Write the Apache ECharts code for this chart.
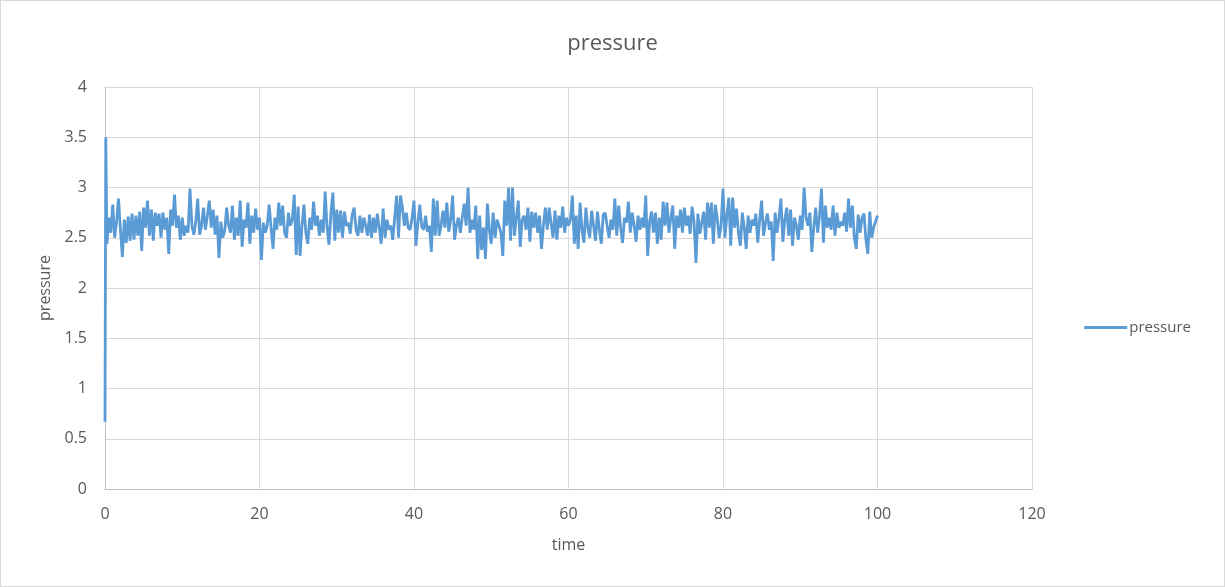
<!DOCTYPE html>
<html>
<head>
  <meta charset="UTF-8">
  <title>pressure</title>
  <style>
    body { margin: 0; background: #fff; }
    #chart { position: absolute; left: 0; top: 0; width: 1223px; height: 585px; border: 1px solid #d9d9d9; }
  </style>
  <script src="https://cdn.jsdelivr.net/npm/echarts@6/dist/echarts.min.js"></script>
</head>
<body>
  <div id="chart"></div>
  <script>
    // first two samples (start-up spike)
    var startTimes = [0, 0.1];
    var startValues = [0.67, 3.5];
    // then one sample every 0.25 time units, from 0.25 to 100
    var step = 0.25;
    var pressure = [
      2.44, 2.70, 2.55, 2.83, 2.50, 2.66, 2.89, 2.58,
      2.31, 2.68, 2.45, 2.71, 2.47, 2.74, 2.48, 2.72,
      2.52, 2.76, 2.37, 2.80, 2.60, 2.87, 2.52, 2.78,
      2.47, 2.75, 2.62, 2.74, 2.50, 2.75, 2.58, 2.70,
      2.34, 2.78, 2.62, 2.93, 2.60, 2.72, 2.48, 2.70,
      2.52, 2.62, 2.55, 2.99, 2.62, 2.53, 2.66, 2.89,
      2.53, 2.62, 2.80, 2.58, 2.72, 2.87, 2.60, 2.78,
      2.53, 2.72, 2.30, 2.66, 2.50, 2.57, 2.80, 2.62,
      2.55, 2.82, 2.48, 2.70, 2.52, 2.87, 2.41, 2.68,
      2.60, 2.85, 2.44, 2.72, 2.55, 2.79, 2.58, 2.70,
      2.28, 2.65, 2.55, 2.62, 2.83, 2.60, 2.39, 2.70,
      2.58, 2.85, 2.62, 2.82, 2.55, 2.50, 2.75, 2.62,
      2.68, 2.93, 2.33, 2.81, 2.32, 2.62, 2.83, 2.55,
      2.44, 2.70, 2.58, 2.86, 2.62, 2.72, 2.52, 2.68,
      2.55, 2.96, 2.60, 2.43, 2.75, 2.95, 2.47, 2.78,
      2.55, 2.77, 2.50, 2.76, 2.62, 2.65, 2.54, 2.73,
      2.80, 2.58, 2.52, 2.72, 2.55, 2.70, 2.62, 2.52,
      2.73, 2.50, 2.70, 2.55, 2.74, 2.60, 2.44, 2.79,
      2.50, 2.68, 2.58, 2.62, 2.48, 2.70, 2.92, 2.50,
      2.92, 2.80, 2.62, 2.75, 2.60, 2.58, 2.70, 2.87,
      2.42, 2.65, 2.83, 2.61, 2.58, 2.72, 2.56, 2.62,
      2.36, 2.89, 2.52, 2.87, 2.52, 2.62, 2.77, 2.60,
      2.85, 2.56, 2.68, 2.92, 2.48, 2.62, 2.70, 2.55,
      2.70, 2.84, 2.62, 3.00, 2.55, 2.68, 2.58, 2.82,
      2.29, 2.72, 2.38, 2.60, 2.29, 2.84, 2.58, 2.44,
      2.75, 2.50, 2.68, 2.62, 2.55, 2.32, 2.87, 2.62,
      3.00, 2.47, 3.00, 2.52, 2.70, 2.87, 2.41, 2.68,
      2.72, 2.58, 2.80, 2.46, 2.76, 2.60, 2.75, 2.55,
      2.72, 2.39, 2.62, 2.80, 2.58, 2.80, 2.64, 2.50,
      2.77, 2.48, 2.72, 2.60, 2.81, 2.55, 2.70, 2.62,
      2.68, 2.92, 2.44, 2.72, 2.39, 2.85, 2.58, 2.45,
      2.80, 2.60, 2.50, 2.77, 2.62, 2.47, 2.76, 2.58,
      2.44, 2.73, 2.75, 2.62, 2.50, 2.68, 2.58, 2.89,
      2.52, 2.82, 2.60, 2.45, 2.70, 2.65, 2.86, 2.55,
      2.75, 2.62, 2.46, 2.72, 2.58, 2.70, 2.60, 2.92,
      2.32, 2.66, 2.76, 2.55, 2.75, 2.44, 2.70, 2.48,
      2.86, 2.62, 2.85, 2.55, 2.70, 2.82, 2.39, 2.72,
      2.60, 2.78, 2.55, 2.80, 2.62, 2.72, 2.54, 2.81,
      2.66, 2.25, 2.74, 2.54, 2.65, 2.76, 2.48, 2.85,
      2.60, 2.85, 2.44, 2.83, 2.70, 2.50, 2.62, 2.99,
      2.50, 2.72, 2.90, 2.42, 2.90, 2.60, 2.79, 2.55,
      2.42, 2.75, 2.60, 2.39, 2.72, 2.55, 2.68, 2.62,
      2.74, 2.45, 2.68, 2.87, 2.52, 2.65, 2.74, 2.58,
      2.66, 2.27, 2.75, 2.55, 2.70, 2.89, 2.46, 2.68,
      2.80, 2.52, 2.78, 2.42, 2.70, 2.62, 2.48, 2.72,
      2.58, 3.00, 2.70, 2.62, 2.75, 2.36, 2.60, 2.80,
      2.55, 2.72, 2.99, 2.45, 2.82, 2.60, 2.70, 2.58,
      2.82, 2.52, 2.75, 2.60, 2.66, 2.62, 2.75, 2.56,
      2.89, 2.60, 2.82, 2.50, 2.39, 2.73, 2.55, 2.70,
      2.74, 2.48, 2.34, 2.76, 2.50, 2.60, 2.66, 2.72
    ];

    var points = [];
    for (var i = 0; i < startTimes.length; i++) points.push([startTimes[i], startValues[i]]);
    for (var j = 0; j < pressure.length; j++) points.push([(j + 1) * step, pressure[j]]);

    var font = '"Open Sans", sans-serif';
    var chart = echarts.init(document.getElementById('chart'));
    chart.setOption({
      animation: false,
      textStyle: { fontFamily: font, color: '#595959' },
      title: {
        text: 'pressure', left: 'center', top: 27,
        textStyle: { fontFamily: font, fontSize: 22, fontWeight: 'normal', color: '#595959' }
      },
      legend: {
        right: 28, top: 314, orient: 'vertical',
        itemWidth: 43, itemHeight: 3, itemGap: 4,
        icon: 'rect',
        textStyle: { fontFamily: font, fontSize: 15, color: '#595959', padding: [0, 0, 0, -3] },
        data: ['pressure']
      },
      grid: { left: 104, right: 192, top: 86, bottom: 97, containLabel: false },
      xAxis: {
        type: 'value', min: 0, max: 120, interval: 20,
        name: 'time', nameLocation: 'middle', nameGap: 48,
        nameTextStyle: { fontFamily: font, fontSize: 16, color: '#595959' },
        axisLine: { show: true, lineStyle: { color: '#bfbfbf', width: 1 } },
        axisTick: { show: false },
        axisLabel: { fontFamily: font, fontSize: 16, color: '#595959', margin: 17 },
        splitLine: { show: true, lineStyle: { color: '#d9d9d9', width: 1 } }
      },
      yAxis: {
        type: 'value', min: 0, max: 4, interval: 0.5,
        name: 'pressure', nameLocation: 'middle', nameGap: 52,
        nameTextStyle: { fontFamily: font, fontSize: 16, color: '#595959' },
        axisLine: { show: true, lineStyle: { color: '#bfbfbf', width: 1 } },
        axisTick: { show: false },
        axisLabel: { fontFamily: font, fontSize: 16, color: '#595959', margin: 18 },
        splitLine: { show: true, lineStyle: { color: '#d9d9d9', width: 1 } }
      },
      series: [{
        name: 'pressure', type: 'line', data: points,
        showSymbol: false, symbol: 'none',
        lineStyle: { color: '#5b9bd5', width: 2.8 },
        itemStyle: { color: '#5b9bd5' }
      }]
    });
  </script>
</body>
</html>
